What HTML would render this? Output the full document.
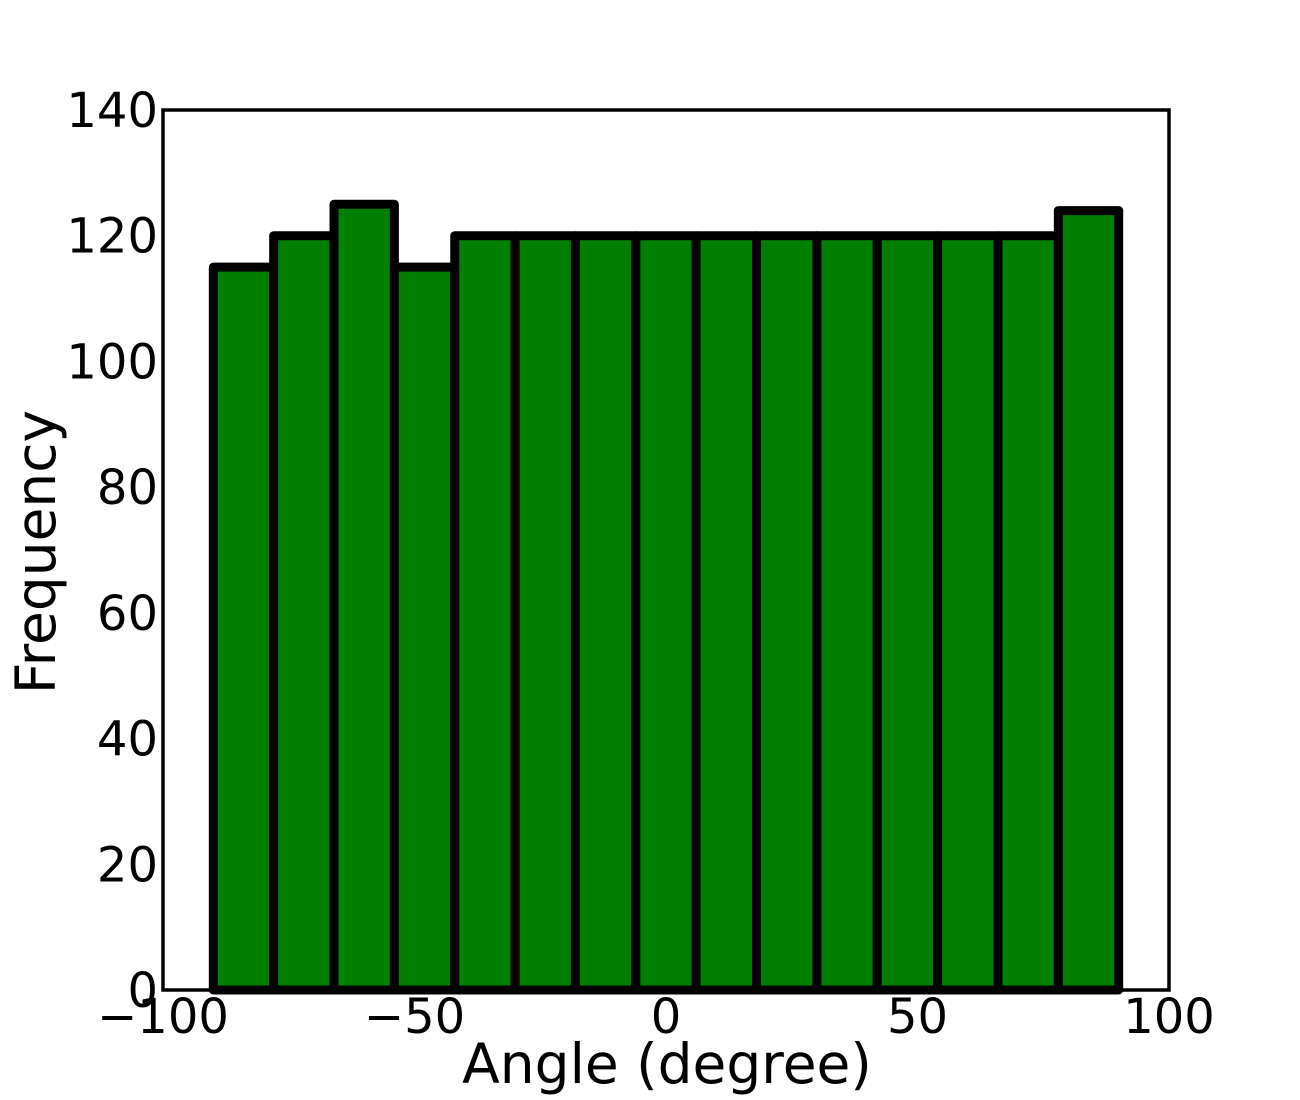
<!DOCTYPE html>
<html><head><meta charset="utf-8"><style>
html,body{margin:0;padding:0;background:#fff;}
svg{display:block;font-family:"DejaVu Sans","Liberation Sans",sans-serif;}
</style></head><body>
<svg id="chart" width="1300" height="1100" viewBox="0 0 1300 1100"></svg>
<script>
const binEdges = [-90,-78,-66,-54,-42,-30,-18,-6,6,18,30,42,54,66,78,90];
const counts = [115,120,125,115,120,120,120,120,120,120,120,120,120,120,124];
const xTicks = [-100,-50,0,50,100];
const xTickLabels = ["\u2212100","\u221250","0","50","100"];
const yTicks = [0,20,40,60,80,100,120,140];
const yTickLabels = ["0","20","40","60","80","100","120","140"];

const L=163,R=1169,T=110,B=990;
const xs = v => L + (v+100)/200*(R-L);
const ys = v => B - v/140*(B-T);
const svg = document.getElementById('chart');
const NS='http://www.w3.org/2000/svg';
function mk(tag, attrs){const e=document.createElementNS(NS,tag);for(const k in attrs)e.setAttribute(k,attrs[k]);svg.appendChild(e);return e;}

for(let i=0;i<counts.length;i++){
  const x0=xs(binEdges[i]), x1=xs(binEdges[i+1]), y=ys(counts[i]);
  const r=mk('rect',{x:x0,y:y,width:x1-x0,height:B-y,fill:'#007f00',stroke:'#000','stroke-width':9,'stroke-linejoin':'round'});
  
  
}
const frame=mk('rect',{x:L,y:T,width:R-L,height:B-T,fill:'none',stroke:'#000','stroke-width':3.5});



xTicks.forEach((v,i)=>{
  const t=mk('text',{x:xs(v),y:1033,'font-size':48,'text-anchor':'middle',fill:'#000'});
  t.textContent=xTickLabels[i];
  
  
});
yTicks.forEach((v,i)=>{
  const t=mk('text',{x:158,y:ys(v)+17,'font-size':48,'text-anchor':'end',fill:'#000'});
  t.textContent=yTickLabels[i];
  
  
});
const xt=mk('text',{x:667,y:1083,'font-size':55,'text-anchor':'middle',fill:'#000'});
xt.textContent='Angle (degree)';


const yt=mk('text',{x:0,y:0,'font-size':55,'text-anchor':'middle',fill:'#000',transform:'translate(55,552) rotate(-90)'});
yt.textContent='Frequency';


</script>
</body></html>
